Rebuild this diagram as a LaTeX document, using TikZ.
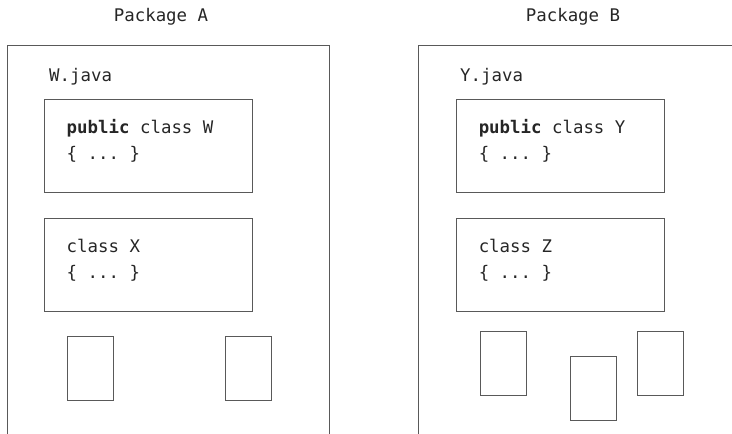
\documentclass[tikz,border=0pt]{standalone}
\usepackage{fontspec}
\setmonofont{DejaVu Sans Mono}
\usetikzlibrary{positioning}

\begin{document}
\begin{tikzpicture}[x=1pt, y=-1pt,
  font=\ttfamily\fontsize{17.4pt}{26pt}\selectfont,
  pkg/.style={draw=black!65, line width=0.9pt},
  cls/.style={draw=black!65, line width=0.9pt, minimum width=208pt,
              minimum height=93pt, inner sep=0pt},
  code/.style={inner sep=0pt, align=left, text=black!85},
  leaf/.style={draw=black!65, line width=0.9pt, minimum width=46pt,
               minimum height=64pt, inner sep=0pt},
  lbl/.style={inner sep=0pt, text=black!85}]

\useasboundingbox (0,0) rectangle (732,434);

% packages (open at the bottom)
\node[lbl] (pkga) at (161,17) {Package A};
\node[lbl] (pkgb) at (573,17) {Package B};
\draw[pkg] (7,434) |- (329,45) -- (329,434);
\draw[pkg] (418,434) |- (732,45);

% package A
\node[lbl, anchor=west] (wfile) at (49,77) {W.java};
\node[cls] (w) at (148,145.5) {};
\node[cls, below=26pt of w] (x) {};
\node[code, below right=21pt and 23pt of w.north west] (wcode) {\textbf{public} class W\\\{ ... \}};
\node[code, below right=21pt and 23pt of x.north west] (xcode) {class X\\\{ ... \}};
\node[leaf] (a1) at (90.5,368) {};
\node[leaf] (a2) at (248,368) {};

% package B
\node[lbl, anchor=west] (yfile) at (460,77) {Y.java};
\node[cls] (y) at (560,145.5) {};
\node[cls, below=26pt of y] (z) {};
\node[code, below right=21pt and 23pt of y.north west] (ycode) {\textbf{public} class Y\\\{ ... \}};
\node[code, below right=21pt and 23pt of z.north west] (zcode) {class Z\\\{ ... \}};
\node[leaf] (b1) at (503,363) {};
\node[leaf] (b2) at (593,388) {};
\node[leaf] (b3) at (660,363) {};
\end{tikzpicture}
\end{document}
